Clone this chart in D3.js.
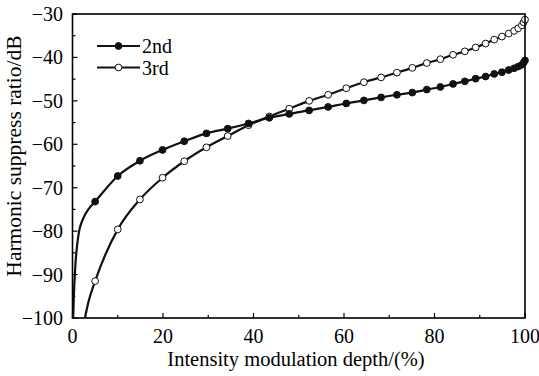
<!DOCTYPE html>
<html>
<head>
<meta charset="utf-8">
<script src="https://cdn.jsdelivr.net/npm/d3@7/dist/d3.min.js"></script>
<style>
  html, body { margin: 0; padding: 0; background: #fff; }
  svg { display: block; }
  svg text { font-family: "Liberation Serif", "Times New Roman", serif; fill: #000; }
</style>
</head>
<body>
<svg id="chart" width="539" height="376"></svg>
<script>
// ---- data ----
const markerX = [5.0, 10.0, 14.9, 19.9, 24.7, 29.6, 34.3, 38.9, 43.5, 47.9, 52.3, 56.5, 60.5, 64.4, 68.2, 71.7, 75.1, 78.3, 81.3, 84.1, 86.7, 89.1, 91.3, 93.2, 94.9, 96.4, 97.6, 98.5, 99.3, 99.7, 100.0];
const secondY = [-73.2, -67.3, -63.8, -61.3, -59.3, -57.5, -56.4, -55.2, -53.9, -53.0, -52.2, -51.4, -50.6, -49.9, -49.2, -48.6, -48.1, -47.4, -46.8, -46.1, -45.5, -44.9, -44.4, -43.8, -43.4, -42.9, -42.5, -42.1, -41.7, -41.2, -40.7];
const thirdY  = [-91.5, -79.6, -72.7, -67.7, -63.9, -60.7, -58.1, -55.6, -53.6, -51.8, -50.0, -48.6, -47.1, -45.7, -44.6, -43.5, -42.4, -41.3, -40.4, -39.4, -38.6, -37.7, -36.8, -35.9, -35.2, -34.5, -33.9, -33.3, -32.6, -31.9, -31.3];
// steep start of each curve (line only, no markers)
const secondLeadX = [0.15, 0.3, 0.6, 1.3, 2.4, 3.5];
const secondLeadY = [-100, -95.0, -88.5, -81.0, -77.0, -75.0];
const thirdLeadX = [2.75, 3.5];
const thirdLeadY = [-100, -96.4];
const seriesNames = ["2nd", "3rd"];
const xTicks = [0, 20, 40, 60, 80, 100];
const yTicks = [-30, -40, -50, -60, -70, -80, -90, -100];
const xTitle = "Intensity modulation depth/(%)";
const yTitle = "Harmonic suppress ratio/dB";

const FONT = "'Liberation Serif', 'Times New Roman', serif";

// ---- layout ----
const L = 72.5, R = 525, T = 14, B = 318;
const svg = d3.select("#chart");
const x = d3.scaleLinear().domain([0, 100]).range([L, R]);
const y = d3.scaleLinear().domain([-100, -30]).range([B, T]);

svg.append("defs").append("clipPath").attr("id", "clip")
  .append("rect").attr("x", L).attr("y", T).attr("width", R - L).attr("height", B - T);

// ticks (inward)
const xMinor = d3.range(10, 100, 20);
const yMinor = d3.range(-95, -30, 10);
const tg = svg.append("g").attr("stroke", "#000").attr("stroke-width", 1.2);
xTicks.forEach(v => tg.append("line").attr("x1", x(v)).attr("x2", x(v)).attr("y1", B).attr("y2", B - 5));
xMinor.forEach(v => tg.append("line").attr("x1", x(v)).attr("x2", x(v)).attr("y1", B).attr("y2", B - 3));
yTicks.forEach(v => tg.append("line").attr("x1", L).attr("x2", L + 5).attr("y1", y(v)).attr("y2", y(v)));
yMinor.forEach(v => tg.append("line").attr("x1", L).attr("x2", L + 3).attr("y1", y(v)).attr("y2", y(v)));

// tick labels
const fmt = d3.format("d");
svg.append("g").selectAll("text").data(xTicks).join("text")
  .attr("x", d => x(d)).attr("y", 343).attr("text-anchor", "middle")
  .attr("font-family", FONT).attr("font-size", 20).text(d => fmt(d));
svg.append("g").selectAll("text").data(yTicks).join("text")
  .attr("x", 63).attr("y", d => y(d) + 7).attr("text-anchor", "end")
  .attr("font-family", FONT).attr("font-size", 20).text(d => fmt(d));

// titles
svg.append("text").attr("x", 296).attr("y", 366).attr("text-anchor", "middle")
  .attr("font-family", FONT).attr("font-size", 20.5).text(xTitle);
svg.append("text").attr("transform", "translate(21,156) rotate(-90)")
  .attr("text-anchor", "middle").attr("font-family", FONT).attr("font-size", 21.5).text(yTitle);

// curves
const line = d3.line().x(d => x(d[0])).y(d => y(d[1])).curve(d3.curveMonotoneX);
const s2 = secondLeadX.map((v, i) => [v, secondLeadY[i]]).concat(markerX.map((v, i) => [v, secondY[i]]));
const s3 = thirdLeadX.map((v, i) => [v, thirdLeadY[i]]).concat(markerX.map((v, i) => [v, thirdY[i]]));
const pg = svg.append("g").attr("clip-path", "url(#clip)");
pg.append("path").attr("d", line(s2)).attr("fill", "none").attr("stroke", "#111").attr("stroke-width", 2.2);
pg.append("path").attr("d", line(s3)).attr("fill", "none").attr("stroke", "#111").attr("stroke-width", 2.2);

const mg = svg.append("g");
mg.selectAll("circle.s3").data(markerX.map((v, i) => [v, thirdY[i]])).join("circle")
  .attr("class", "s3").attr("cx", d => x(d[0])).attr("cy", d => y(d[1])).attr("r", 3.4)
  .attr("fill", "#fff").attr("stroke", "#111").attr("stroke-width", 1);
mg.selectAll("circle.s2").data(markerX.map((v, i) => [v, secondY[i]])).join("circle")
  .attr("class", "s2").attr("cx", d => x(d[0])).attr("cy", d => y(d[1])).attr("r", 3.4)
  .attr("fill", "#111").attr("stroke", "#111").attr("stroke-width", 1);

// frame
svg.append("rect").attr("x", L).attr("y", T).attr("width", R - L).attr("height", B - T)
  .attr("fill", "none").attr("stroke", "#000").attr("stroke-width", 1.6);

// legend
const legY = [46, 67.5];
seriesNames.forEach((name, i) => {
  const g = svg.append("g");
  g.append("line").attr("x1", 97).attr("x2", 140).attr("y1", legY[i]).attr("y2", legY[i])
    .attr("stroke", "#111").attr("stroke-width", 2.2);
  g.append("circle").attr("cx", 118.5).attr("cy", legY[i]).attr("r", 3.4)
    .attr("fill", i === 0 ? "#111" : "#fff").attr("stroke", "#111").attr("stroke-width", 1);
  g.append("text").attr("x", 142).attr("y", legY[i] + 7).attr("font-family", FONT)
    .attr("font-size", 20).text(name);
});
</script>
</body>
</html>
